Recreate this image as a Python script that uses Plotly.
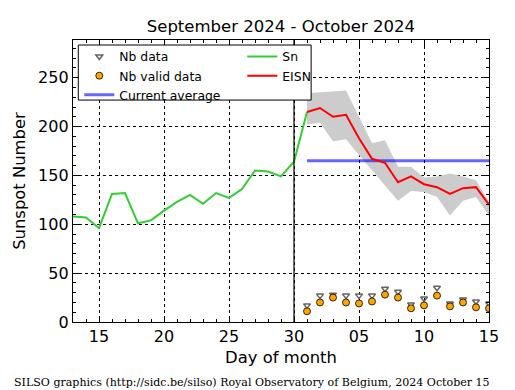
import plotly.graph_objects as go
import pandas as pd

# ---- data ----
sn_dates = pd.date_range("2024-09-13", "2024-10-01", freq="D")
sn_values = [108, 107, 96, 131, 132, 101, 104, 114, 123, 130, 121, 132, 127, 136, 155, 154, 149, 164, 215]

eisn_dates = pd.date_range("2024-10-01", "2024-10-15", freq="D")
eisn_values = [215, 219, 210, 212, 188, 167, 163, 143, 149, 141, 138, 131, 137, 138, 120]
band_upper = [234, 235, 236, 237, 210, 183, 186, 159, 159, 148, 149, 152, 149, 145, 123]
band_lower = [202, 204, 185, 187, 171, 155, 140, 124, 134, 133, 128, 109, 124, 128, 109]

nb_data = [17, 27, 28, 27, 27, 27, 34, 31, 18, 24, 35, 19, 23, 21, 19]
nb_valid = [11, 20, 25, 20, 19, 21, 28, 25, 14, 17, 27, 16, 20, 15, 14]

current_average = 165
avg_dates = [eisn_dates[0], eisn_dates[-1]]

x_tickvals = ["2024-09-15", "2024-09-20", "2024-09-25", "2024-09-30",
              "2024-10-05", "2024-10-10", "2024-10-15"]
x_ticktext = ["15", "20", "25", "30", "05", "10", "15"]
y_tickvals = [0, 50, 100, 150, 200, 250]
x_range = ["2024-09-13", "2024-10-15"]
y_range = [0, 288.6]
divider_date = "2024-09-30"

title_text = "September 2024 - October 2024"
footer_text = "SILSO graphics (http://sidc.be/silso) Royal Observatory of Belgium, 2024 October 15"

# ---- geometry (page is offset by the 8px body margin) ----
OFF = 8
FIG_W, FIG_H = 515 - OFF, 390 - OFF
PL, PR, PT, PB = 72.7, 489, 40, 321.7          # plot box in page pixels
PW, PH = PR - PL, PB - PT


def px(xp):
    return (xp - PL) / PW


def py(yp):
    return (PB - yp) / PH


# ---- figure ----
fig = go.Figure()

fig.add_trace(go.Scatter(x=eisn_dates, y=band_lower, mode="lines",
                         line=dict(width=0, color="rgba(0,0,0,0)"),
                         showlegend=False, hoverinfo="skip"))
fig.add_trace(go.Scatter(x=eisn_dates, y=band_upper, mode="lines",
                         line=dict(width=0, color="rgba(0,0,0,0)"),
                         fill="tonexty", fillcolor="rgb(204,204,204)",
                         showlegend=False, hoverinfo="skip"))

fig.add_trace(go.Scatter(x=eisn_dates, y=nb_data, mode="markers", name="Nb data",
                         marker=dict(symbol="triangle-down-open", size=6,
                                     color="rgb(100,100,100)", line=dict(width=1.5)),
                         legendrank=1))
fig.add_trace(go.Scatter(x=eisn_dates, y=nb_valid, mode="markers", name="Nb valid data",
                         marker=dict(symbol="circle", size=7, color="orange",
                                     line=dict(width=0.8, color="black")),
                         legendrank=3))
fig.add_trace(go.Scatter(x=avg_dates, y=[current_average, current_average], mode="lines",
                         name="Current average",
                         line=dict(color="rgba(0,0,255,0.6)", width=3),
                         legendrank=5))
fig.add_trace(go.Scatter(x=sn_dates, y=sn_values, mode="lines", name="Sn",
                         line=dict(color="rgb(50,205,50)", width=2),
                         legendrank=2))
fig.add_trace(go.Scatter(x=eisn_dates, y=eisn_values, mode="lines", name="EISN",
                         line=dict(color="red", width=2),
                         legendrank=4))

font_family = "DejaVu Sans"

fig.update_layout(
    width=FIG_W, height=FIG_H,
    margin=dict(l=PL - OFF, r=515 - PR, t=PT - OFF, b=FIG_H - (PB - OFF)),
    paper_bgcolor="white", plot_bgcolor="white",
    font=dict(family=font_family, size=16, color="black"),
    title=dict(text=title_text, x=((PL + PR) / 2 - OFF) / FIG_W, xanchor="center",
               y=1 - (26 - OFF) / FIG_H, yanchor="middle",
               font=dict(size=16.5, color="black")),
    showlegend=True,
    legend=dict(orientation="h", x=px(79), xanchor="left", y=py(42), yanchor="top",
                bgcolor="rgba(0,0,0,0)", borderwidth=0,
                entrywidth=118, entrywidthmode="pixels",
                font=dict(size=12.4, color="black"),
                traceorder="normal"),
    xaxis=dict(type="date", range=x_range,
               tickmode="array", tickvals=x_tickvals, ticktext=x_ticktext,
               ticks="inside", ticklen=6, tickcolor="black", tickwidth=1,
               showline=True, linecolor="black", linewidth=1.3, mirror="allticks",
               showgrid=True, gridcolor="black", griddash="dot", gridwidth=1,
               tickfont=dict(size=16),
               minor=dict(dtick=86400000, tick0="2024-09-13", ticks="inside",
                          ticklen=3, tickcolor="black", showgrid=False),
               title=dict(text="Day of month", font=dict(size=16.4), standoff=6),
               zeroline=False),
    yaxis=dict(range=y_range, tickmode="array", tickvals=y_tickvals,
               ticks="inside", ticklen=6, tickcolor="black", tickwidth=1,
               showline=True, linecolor="black", linewidth=1.3, mirror="allticks",
               showgrid=True, gridcolor="black", griddash="dot", gridwidth=1,
               tickfont=dict(size=16),
               minor=dict(dtick=10, ticks="inside", ticklen=3, tickcolor="black",
                          showgrid=False),
               title=dict(text="Sunspot Number", font=dict(size=16.4), standoff=8),
               zeroline=False),
)

# vertical divider at end of September
fig.add_shape(type="line", xref="x", yref="paper", x0=divider_date, x1=divider_date,
              y0=0, y1=1, line=dict(color="black", width=1.2), layer="above")

# legend frame (white box)
fig.add_shape(type="rect", xref="paper", yref="paper",
              x0=px(78), x1=px(311), y0=py(100), y1=py(45),
              line=dict(color="black", width=1), fillcolor="white", layer="above")

fig.add_annotation(text=footer_text, xref="paper", yref="paper",
                   x=px(12), xanchor="left", y=py(382), yanchor="middle",
                   showarrow=False, font=dict(family="DejaVu Serif", size=11.05, color="black"))

fig.write_html("out.html")
